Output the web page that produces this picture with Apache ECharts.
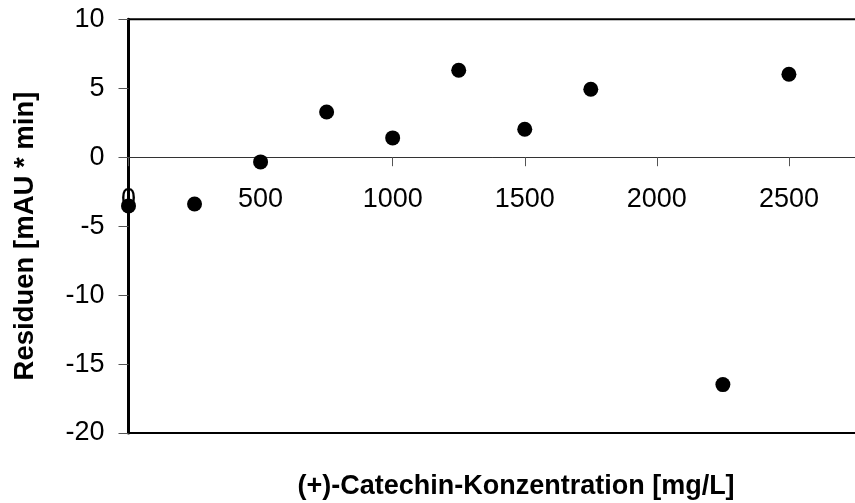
<!DOCTYPE html>
<html>
<head>
<meta charset="utf-8">
<script src="https://cdn.jsdelivr.net/npm/echarts@6/dist/echarts.min.js"></script>
<style>
  html, body { margin: 0; padding: 0; background: #fff; }
  #chart { width: 855px; height: 503px; }
</style>
</head>
<body>
<div id="chart"></div>
<script>
// Catechin concentrations (mg/L) and the residuals of the calibration fit
const concentrations = [0, 250, 500, 750, 1000, 1250, 1500, 1750, 2250, 2500];
const residuals = [-3.53, -3.39, -0.34, 3.28, 1.40, 6.31, 2.03, 4.93, -16.49, 6.02];

const xTitle = '(+)-Catechin-Konzentration [mg/L]';
const yTitle = 'Residuen [mAU * min]';

const yMin = -20, yMax = 10;
const gridTop = 19.3, gridBottomY = 433;
const points = concentrations.map((c, i) => [c, residuals[i]]);

// the x axis crosses at residual 0, so shift it up from the grid bottom by the
// height of the negative part of the y range
const plotH = gridBottomY - gridTop;
const zeroShift = plotH * (0 - yMin) / (yMax - yMin);

const chart = echarts.init(document.getElementById('chart'), null, { renderer: 'canvas' });
chart.setOption({
  animation: false,
  backgroundColor: '#ffffff',
  grid: {
    left: 128.5, top: gridTop, right: -66, bottom: 503 - gridBottomY,
    outerBoundsMode: 'none',
    show: true, borderColor: '#000', borderWidth: 2, backgroundColor: 'transparent'
  },
  xAxis: {
    type: 'value', min: 0, max: 3000, interval: 500,
    position: 'bottom',
    offset: -zeroShift,
    axisLine: { onZero: false, lineStyle: { color: '#333', width: 1 } },
    axisTick: { show: true, length: 9, lineStyle: { color: '#555', width: 1 } },
    axisLabel: {
      margin: 29, color: '#000', fontFamily: 'Liberation Sans, Arial', fontSize: 27,
      formatter: v => String(v)
    },
    splitLine: { show: false }
  },
  yAxis: {
    type: 'value', min: yMin, max: yMax, interval: 5,
    axisLine: { show: true, onZero: false, lineStyle: { color: '#000', width: 3 } },
    axisTick: { show: true, length: 10, lineStyle: { color: '#555', width: 1 } },
    axisLabel: {
      margin: 24, color: '#000', fontFamily: 'Liberation Sans, Arial', fontSize: 27,
      formatter: v => String(v)
    },
    splitLine: { show: false }
  },
  graphic: [
    {
      type: 'text', x: 516, y: 487,
      style: { text: xTitle, fill: '#000', font: 'bold 27px "Liberation Sans", Arial', align: 'center', verticalAlign: 'middle' }
    },
    {
      type: 'text', x: 25, y: 236, rotation: Math.PI / 2,
      style: { text: yTitle, fill: '#000', font: 'bold 27.5px "Liberation Sans", Arial', align: 'center', verticalAlign: 'middle' }
    }
  ],
  series: [{
    type: 'scatter',
    data: points,
    symbol: 'circle',
    symbolSize: 15,
    z: 5,
    itemStyle: { color: '#000', opacity: 1 }
  }]
});
</script>
</body>
</html>
